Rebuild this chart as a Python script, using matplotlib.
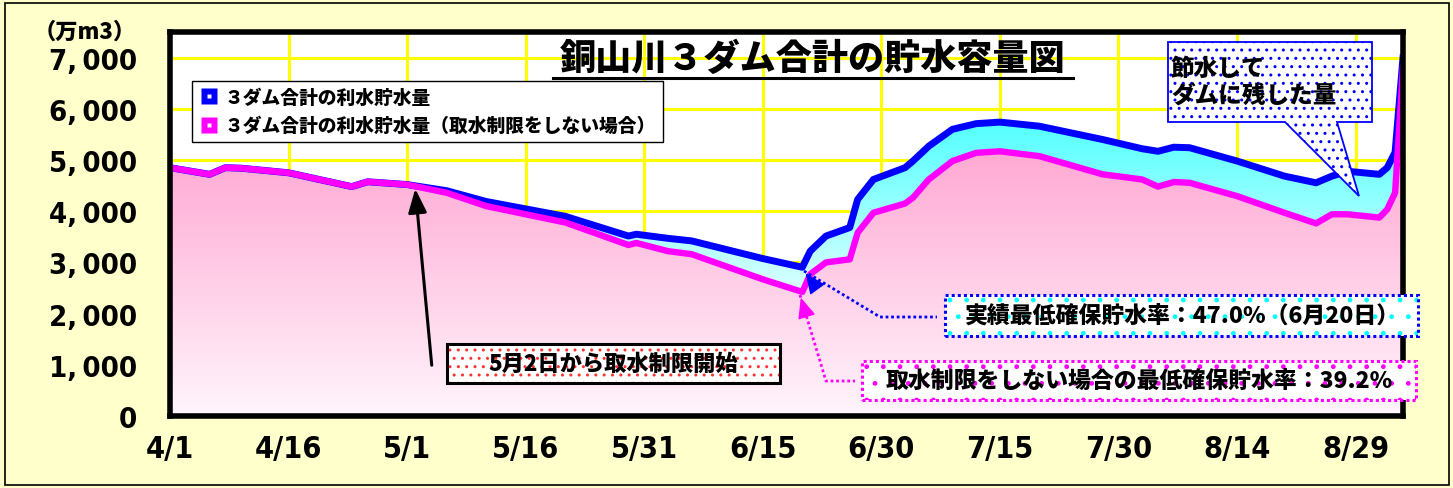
import numpy as np
import matplotlib
matplotlib.use('Agg')
import matplotlib.pyplot as plt
from matplotlib.patches import Rectangle, Polygon
from matplotlib.lines import Line2D

plt.rcParams['font.family'] = ['Noto Sans CJK JP', 'DejaVu Sans']
NUM_FONT = ['DejaVu Sans']

# days counted from 4/1
days = [0, 5, 7, 9, 15, 23, 25, 30, 35, 40, 50, 58, 59, 63, 66, 75, 80, 81, 83, 86, 87, 89,
        93, 94, 96, 99, 102, 105, 110, 118, 123, 125, 127, 129, 135, 141, 145, 147, 149,
        153, 154, 155, 156]
# 3 dams total usable storage (10^4 m3)
actual = [4850, 4720, 4850, 4840, 4750, 4480, 4575, 4520, 4400, 4190, 3900, 3515, 3550, 3470,
          3420, 3075, 2905, 3220, 3515, 3680, 4230, 4620, 4850, 4980, 5270, 5600, 5710, 5740,
          5660, 5400, 5220, 5170, 5250, 5240, 4980, 4685, 4555, 4685, 4780, 4720, 4850, 5150,
          7000]
# same, without intake restriction
no_limit = [4850, 4720, 4850, 4840, 4750, 4480, 4575, 4520, 4360, 4100, 3780, 3340, 3380, 3220,
            3160, 2670, 2423, 2770, 3000, 3060, 3580, 3970, 4150, 4265, 4620, 4980, 5140, 5170,
            5075, 4720, 4620, 4480, 4570, 4555, 4295, 3970, 3762, 3940, 3940, 3875, 4035, 4360,
            6800]

tick_days = [0, 15, 30, 45, 60, 75, 90, 105, 120, 135, 150]
tick_dates = ['4/1', '4/16', '5/1', '5/16', '5/31', '6/15', '6/30', '7/15', '7/30', '8/14', '8/29']
y_ticks = [0, 1000, 2000, 3000, 4000, 5000, 6000, 7000]
y_labels = ['0', '1,\u2009000', '2,\u2009000', '3,\u2009000', '4,\u2009000', '5,\u2009000',
            '6,\u2009000', '7,\u2009000']

legend_labels = ['３ダム合計の利水貯水量', '３ダム合計の利水貯水量（取水制限をしない場合）']

BLUE = '#0000FF'
MAG = '#FF00FF'
BG = '#FFFFCC'
W, H = 1453, 489


def fx(x):
    return x / W


def fy(y):
    return 1 - y / H


def cyan_col(v):
    r = np.clip(85 + (5700 - v) * 0.041, 85, 255)
    return (r / 255, 1.0, 1.0)


def pink_col(v):
    t = np.clip((5100 - v) / 5100, 0, 1)
    return (1.0, (170 + 75 * t) / 255, (212 + 40 * t) / 255)


def gradient_area(ax, x, top, col_fn, z):
    poly = ax.fill_between(x, 0, top, facecolor='none', edgecolor='none', zorder=z)
    v = np.linspace(0, 7500, 400)
    img = np.array([col_fn(val) for val in v])[:, None, :]
    im = ax.imshow(img, extent=[x[0], x[-1], 0, 7500], origin='lower', aspect='auto',
                   zorder=z, interpolation='bilinear')
    im.set_clip_path(poly.get_paths()[0], transform=ax.transData)


fig = plt.figure(figsize=(W / 100, H / 100), dpi=100, facecolor=BG)
ax = fig.add_axes([fx(170), fy(417), (1403 - 170) / W, (417 - 33) / H])
ax.set_facecolor('white')

gradient_area(ax, days, actual, cyan_col, 1)
gradient_area(ax, days, no_limit, pink_col, 2)
ax.plot(days, actual, color=BLUE, lw=5, zorder=3, solid_joinstyle='round')
ax.fill_between(days, 0, no_limit, facecolor='none', edgecolor=MAG, lw=3, zorder=4)
ax.plot(days, no_limit, color=MAG, lw=4.6, zorder=4, solid_joinstyle='round')

ax.set_xlim(days[0], days[-1])
ax.set_ylim(0, 7500)
ax.set_xticks(tick_days, tick_dates)
ax.set_yticks(y_ticks, y_labels)
ax.tick_params(length=0)
ax.tick_params(axis='y', pad=24)
ax.tick_params(axis='x', pad=13)
for lbl in ax.get_yticklabels():
    lbl.set_fontfamily(NUM_FONT)
    lbl.set_fontstretch('condensed')
    lbl.set_fontsize(21)
    lbl.set_fontweight('bold')
for lbl in ax.get_xticklabels():
    lbl.set_fontfamily(NUM_FONT)
    lbl.set_fontstretch('condensed')
    lbl.set_fontsize(22)
    lbl.set_fontweight('bold')
ax.set_axisbelow(True)
ax.grid(True, color='#FFFF00', lw=2.2)
for s in ax.spines.values():
    s.set_linewidth(4)
    s.set_color('black')
    s.set_zorder(10)

# legend
h1 = (Line2D([], [], marker='s', ls='none', color=BLUE, ms=12, mec='none'),
      Line2D([], [], marker='s', ls='none', color='white', ms=2.5, mec='none'))
h2 = (Line2D([], [], marker='s', ls='none', color=MAG, ms=12, mec='none'),
      Line2D([], [], marker='s', ls='none', color='white', ms=2.5, mec='none'))
leg = ax.legend([h1, h2], legend_labels, loc='upper left', bbox_to_anchor=(0.018, 0.872),
                borderaxespad=0, fancybox=False, edgecolor='black', framealpha=1,
                prop={'size': 13.5, 'weight': 'heavy'}, handlelength=1.1, handletextpad=0.3,
                labelspacing=0.5, borderpad=0.35)
leg.get_frame().set_linewidth(1)
leg.set_zorder(20)

# texts around the chart
fig.text(fx(34), fy(32), '（万m3）', fontsize=16, fontweight='heavy', ha='left', va='center')
fig.text(fx(813), fy(59), '銅山川３ダム合計の貯水容量図', fontsize=26, fontweight='heavy',
         ha='center', va='center', zorder=30)
fig.add_artist(Line2D([fx(553), fx(1073)], [fy(79), fy(79)], color='black', lw=2.2,
                      transform=fig.transFigure, zorder=30))

# callout for saved water
call = [(1168, 43), (1372, 43), (1372, 123), (1337, 123), (1359, 197), (1285, 123), (1168, 123)]
fig.add_artist(Polygon([(fx(a), fy(b)) for a, b in call], closed=True, facecolor='white',
                       edgecolor=BLUE, lw=1.3, hatch='..', transform=fig.transFigure, zorder=25))
fig.text(fx(1171), fy(56), '節水して\nダムに残した量', fontsize=17, fontweight='heavy',
         ha='left', va='top', linespacing=1.2, zorder=30)


def note_box(x0, y0, x1, y1, dot_col, edge_col, ls, hatch, text, size):
    fig.add_artist(Rectangle((fx(x0), fy(y1)), (x1 - x0) / W, (y1 - y0) / H,
                             facecolor='white', edgecolor=dot_col, lw=0, hatch=hatch,
                             transform=fig.transFigure, zorder=25))
    fig.add_artist(Rectangle((fx(x0), fy(y1)), (x1 - x0) / W, (y1 - y0) / H, fill=False,
                             edgecolor=edge_col, lw=2.2, ls=ls,
                             transform=fig.transFigure, zorder=26))
    fig.text(fx((x0 + x1) / 2), fy((y0 + y1) / 2), text, fontsize=size, fontweight='heavy',
             ha='center', va='center', zorder=30)


def connector(pts, col, tip_from):
    fig.add_artist(Line2D([fx(a) for a, b in pts], [fy(b) for a, b in pts], color=col,
                          lw=2, ls=(0, (1, 1)), transform=fig.transFigure, zorder=24))
    ax.annotate('', xy=(pts[0][0], H - pts[0][1]), xycoords='figure pixels',
                xytext=(tip_from[0], H - tip_from[1]), textcoords='figure pixels',
                arrowprops=dict(arrowstyle='-|>,head_length=0.8,head_width=0.35',
                                color=col, lw=1, mutation_scale=16), zorder=24)


note_box(945, 296, 1418, 337, '#00FFFF', BLUE, (0, (1, 1)), '.',
         '実績最低確保貯水率：47.0%（6月20日）', 16.5)
note_box(862, 362, 1416, 401, MAG, MAG, (0, (1, 1)), '.',
         '取水制限をしない場合の最低確保貯水率：39.2%', 16.5)
note_box(447, 345, 780, 384, '#FF3333', 'black', '-', '..',
         '5月2日から取水制限開始', 16)

connector([(804, 272), (880, 318), (937, 318)], BLUE, (812, 283))
connector([(800, 296), (826, 382), (855, 382)], MAG, (804, 309))

ax.annotate('', xy=(415, H - 187), xycoords='figure pixels', xytext=(432, H - 369),
            textcoords='figure pixels',
            arrowprops=dict(arrowstyle='-|>,head_length=0.9,head_width=0.35', color='black',
                            lw=2.2, mutation_scale=16), zorder=24)

fig.add_artist(Rectangle((fx(5), fy(486)), (1449 - 5) / W, (486 - 4) / H, fill=False,
                         edgecolor='black', lw=1.2, transform=fig.transFigure))

fig.savefig('out.png', dpi=100, facecolor=BG)
